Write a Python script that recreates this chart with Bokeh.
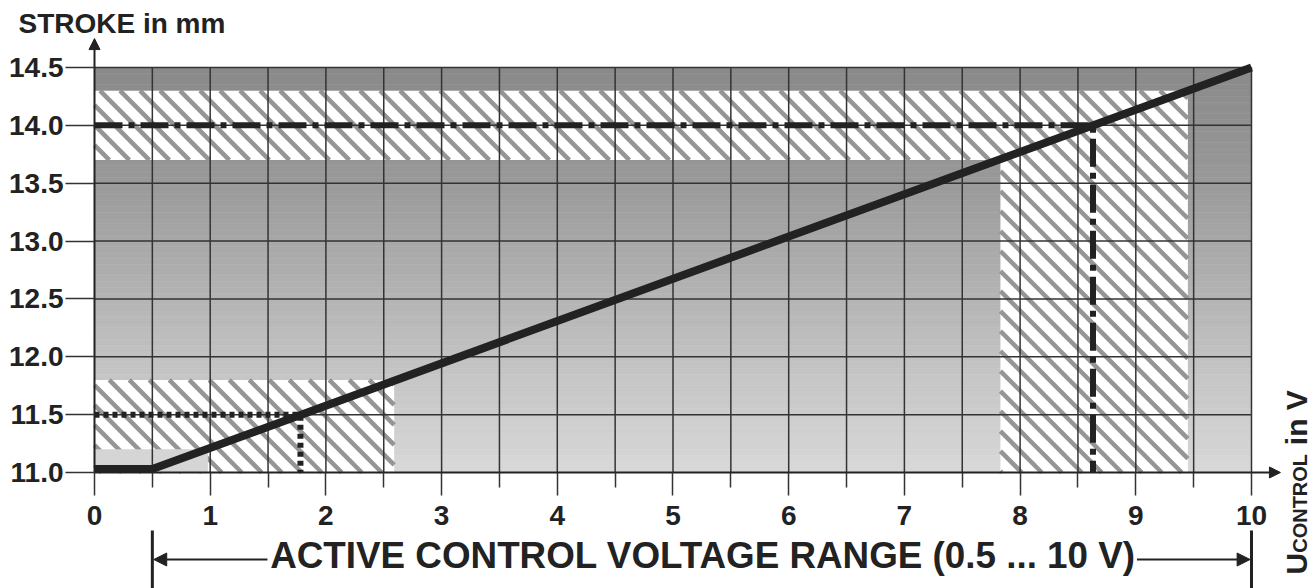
import numpy as np
from bokeh.plotting import figure
from bokeh.models import (LinearAxis, FixedTicker, PrintfTickFormatter, Range1d,
                          Arrow, NormalHead)
from bokeh.core.properties import value
from bokeh.embed import file_html
from bokeh.resources import INLINE

# ---------------- data ----------------
x_ticks = [0, 1, 2, 3, 4, 5, 6, 7, 8, 9, 10]
x_minor = [0.5, 1.5, 2.5, 3.5, 4.5, 5.5, 6.5, 7.5, 8.5, 9.5]
y_ticks = [11.0, 11.5, 12.0, 12.5, 13.0, 13.5, 14.0, 14.5]

# characteristic stroke vs control voltage
curve_u = [0.0, 0.5, 10.0]
curve_s = [11.03, 11.03, 14.5]

# reference read-offs
ref_lo_u = [0.0, 1.78, 1.78]
ref_lo_s = [11.5, 11.5, 11.0]
ref_hi_u = [0.0, 8.63, 8.63]
ref_hi_s = [14.0, 14.0, 11.0]

# hatched (white) zones
zone_left = [0.0, 7.83, 0.0]
zone_right = [9.45, 9.45, 2.59]
zone_bottom = [13.7, 11.0, 11.0]
zone_top = [14.3, 13.7, 11.8]

# light zone at start
low_left = [0.0]
low_right = [0.98]
low_bottom = [11.0]
low_top = [11.2]

active_range = [0.5, 10.0]

# ---------------- figure ----------------
FONT = "Liberation Sans"
INK = "#222222"

p = figure(width=1316, height=588,
           x_range=Range1d(-0.8124, 10.5618), y_range=Range1d(9.9975, 15.0790),
           x_axis_type=None, y_axis_type=None,
           toolbar_location=None, output_backend="svg",
           min_border=0, outline_line_color=None)
p.background_fill_color = "white"
p.border_fill_color = "white"

# vertical gradient background
edges = np.linspace(y_ticks[0], y_ticks[-1], 71)
mids = (edges[:-1] + edges[1:]) / 2
g = np.interp(mids, [11.0, 12.0, 13.6, 14.5], [217, 194, 152, 138]).astype(int)
cols = ["#%02x%02x%02x" % (v, v, v) for v in g]
p.quad(left=x_ticks[0], right=x_ticks[-1], bottom=edges[:-1], top=edges[1:],
       fill_color=cols, line_color=cols, line_width=0.6)

# hatched zones: white fill + 45 degree stripes
p.quad(left=zone_left, right=zone_right, bottom=zone_bottom, top=zone_top,
       fill_color="white", line_color=None)

d = 20 / 115.7   # stripe spacing in data units (axes share the same scale)
hx0, hy0, hx1, hy1 = [], [], [], []
for l, r, b, t in zip(zone_left, zone_right, zone_bottom, zone_top):
    k0 = int(np.floor((l + b) / d)) - 1
    k1 = int(np.ceil((r + t) / d)) + 1
    for k in range(k0, k1 + 1):
        c = k * d
        xa = max(l, c - t)
        xb = min(r, c - b)
        if xb - xa > 1e-6:
            hx0.append(xa); hy0.append(c - xa)
            hx1.append(xb); hy1.append(c - xb)
p.segment(x0=hx0, y0=hy0, x1=hx1, y1=hy1, line_color="#959595", line_width=4.5,
          line_cap="butt")

p.quad(left=low_left, right=low_right, bottom=low_bottom, top=low_top,
       fill_color="#d5d5d5", line_color=None)

# grid lines
gx = x_minor + x_ticks[1:]
p.segment(x0=gx, y0=y_ticks[0], x1=gx, y1=y_ticks[-1], line_color="#333333", line_width=1.5)
gy = y_ticks[1:]
p.segment(x0=x_ticks[0], y0=gy, x1=x_ticks[-1], y1=gy, line_color="#333333", line_width=1.5)

# read-off lines
p.line(ref_lo_u, ref_lo_s, line_color=INK, line_width=6, line_dash="5 4")
p.line(ref_hi_u, ref_hi_s, line_color=INK, line_width=6, line_dash="28 6 6 6")
# characteristic
p.line(curve_u, curve_s, line_color=INK, line_width=8, line_join="miter")

# axes
yax = LinearAxis(fixed_location=0, bounds=(y_ticks[0], y_ticks[-1]),
                 ticker=FixedTicker(ticks=y_ticks),
                 formatter=PrintfTickFormatter(format="%.1f"))
xax = LinearAxis(fixed_location=11.0, bounds=(x_ticks[0], x_ticks[-1]),
                 ticker=FixedTicker(ticks=x_ticks, minor_ticks=x_minor))
for ax in (yax, xax):
    ax.axis_line_color = INK
    ax.axis_line_width = 2
    ax.major_tick_in = 0
    ax.minor_tick_in = 0
    ax.major_tick_line_color = "#333333"
    ax.major_tick_line_width = 1.5
    ax.minor_tick_line_color = "#333333"
    ax.minor_tick_line_width = 1.5
    ax.major_label_text_font = FONT
    ax.major_label_text_font_size = "28px"
    ax.major_label_text_font_style = "bold"
    ax.major_label_text_color = INK
yax.major_tick_out = 29
yax.minor_tick_out = 0
yax.major_label_standoff = 2
xax.major_tick_out = 23
xax.minor_tick_out = 15
xax.major_label_standoff = 11
p.add_layout(yax, "left")
p.add_layout(xax, "below")

# axis arrows
p.add_layout(Arrow(end=NormalHead(size=11, fill_color=INK, line_color=INK, line_width=1),
                   x_start=0, y_start=14.5, x_end=0, y_end=14.75,
                   line_color=INK, line_width=2))
p.add_layout(Arrow(end=NormalHead(size=11, fill_color=INK, line_color=INK, line_width=1),
                   x_start=10, y_start=11.0, x_end=10.25, y_end=11.0,
                   line_color=INK, line_width=2))

# axis titles
p.text(x=[-0.657], y=[14.880], text=["STROKE in mm"], text_font=value(FONT),
       text_font_style="bold", text_font_size="28px", text_color=INK,
       text_align="left", text_baseline="alphabetic")

p.text(x=[10.391], y=[10.1185], text=["U"], angle=np.pi / 2, text_font=value(FONT),
       text_font_style="bold", text_font_size="30px", text_color=INK,
       text_align="left", text_baseline="alphabetic")
p.text(x=[10.422], y=[10.306], text=["CONTROL"], angle=np.pi / 2, text_font=value(FONT),
       text_font_style="bold", text_font_size="20px", text_color=INK,
       text_align="left", text_baseline="alphabetic")
p.text(x=[10.391], y=[11.236], text=["in V"], angle=np.pi / 2, text_font=value(FONT),
       text_font_style="bold", text_font_size="30px", text_color=INK,
       text_align="left", text_baseline="alphabetic")

# active control voltage range annotation
p.segment(x0=active_range, y0=10.499, x1=active_range, y1=9.99, line_color=INK, line_width=3)
p.add_layout(Arrow(end=NormalHead(size=13, fill_color=INK, line_color=INK, line_width=1),
                   x_start=1.495, y_start=10.248, x_end=active_range[0] + 0.012, y_end=10.248,
                   line_color=INK, line_width=2))
p.add_layout(Arrow(end=NormalHead(size=13, fill_color=INK, line_color=INK, line_width=1),
                   x_start=9.01, y_start=10.248, x_end=active_range[1] - 0.012, y_end=10.248,
                   line_color=INK, line_width=2))
p.text(x=[5.259], y=[10.282], text=["ACTIVE CONTROL VOLTAGE RANGE (0.5 ... 10 V)"],
       text_font=value(FONT), text_font_style="bold", text_font_size="36.8px",
       text_color=INK, text_align="center", text_baseline="alphabetic")

open("out.html", "w").write(file_html(p, INLINE))
